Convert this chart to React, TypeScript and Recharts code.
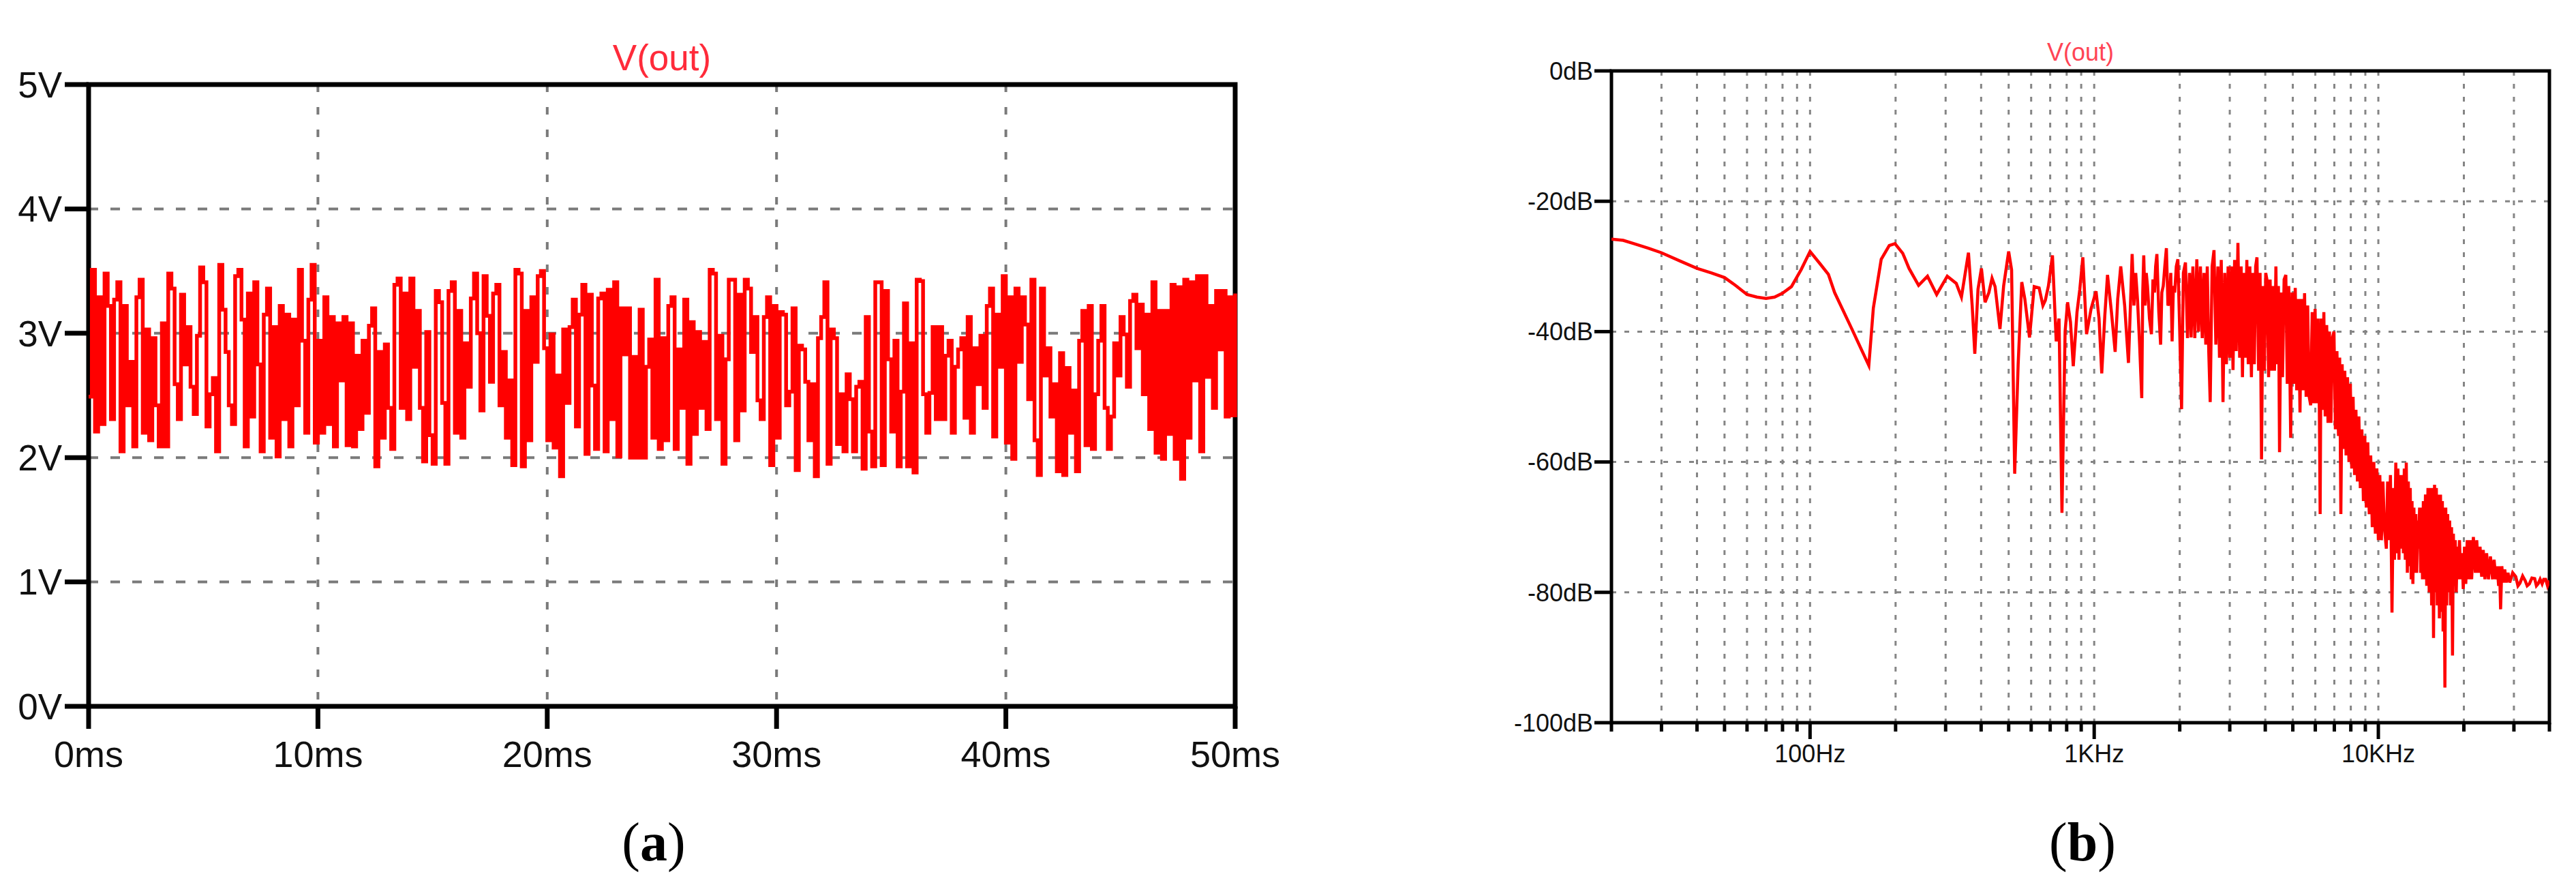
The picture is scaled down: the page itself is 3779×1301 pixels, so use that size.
import React from 'react'
import {
  LineChart,
  Line,
  XAxis,
  YAxis,
  CartesianGrid,
  ReferenceArea,
} from 'recharts'

const SANS = '"Liberation Sans", Arial, sans-serif'
const SERIF = '"Liberation Serif", "Times New Roman", serif'

// (a) transient of V(out), 0..50 ms, one sample per step
const timeTicks = [0, 10, 20, 30, 40, 50]
const voltTicks = [0, 1, 2, 3, 4, 5]

const voutSteps = [
  2.49, 3.51, 2.21, 3.29, 2.27, 3.48, 3.22, 2.31, 3.27, 3.41, 2.05, 3.22, 2.42, 2.77, 2.09, 3.29,
  3.43, 2.2, 3.03, 2.14, 2.96, 2.42, 2.09, 3.08, 2.09, 3.48, 3.36, 2.59, 2.31, 3.31, 2.75, 3.05,
  2.57, 2.35, 2.98, 3.53, 3.41, 2.25, 2.51, 2.64, 2.05, 3.55, 3.19, 2.85, 2.42, 2.27, 3.46, 3.51,
  3.11, 2.09, 3.32, 2.33, 3.41, 2.75, 2.05, 3.15, 3.36, 2.16, 3.05, 2.01, 3.22, 2.31, 3.15, 2.09,
  3.11, 2.42, 3.51, 2.94, 2.2, 3.27, 3.55, 2.12, 2.94, 2.2, 3.29, 2.27, 3.13, 2.09, 3.08, 2.62,
  // 12.5 .. 25 ms
  3.13, 2.1, 3.08, 2.09, 2.82, 2.23, 2.94, 2.36, 3.06, 3.2, 1.93, 2.85, 2.16, 2.91, 2.4, 2.07,
  3.39, 3.44, 2.4, 3.32, 2.31, 3.44, 2.73, 3.18, 2.4, 1.97, 3.01, 2.18, 1.95, 3.34, 3.25, 2.44,
  1.95, 3.34, 3.41, 2.2, 3.18, 2.16, 2.92, 2.57, 3.28, 3.48, 3.0, 2.38, 3.46, 3.14, 2.61, 3.32,
  3.39, 2.42, 2.85, 2.16, 2.62, 1.94, 3.51, 3.48, 1.93, 3.18, 2.14, 3.29, 2.77, 3.46, 3.5, 2.88,
  2.14, 2.99, 2.08, 2.66, 1.85, 3.03, 2.44, 3.05, 3.27, 2.25, 3.15, 3.39, 2.03, 3.31, 2.58, 2.07,
  3.28, 3.32, 2.05, 3.35, 2.31, 3.41, 2.01, 3.2, 2.83, 3.2, 2.0,
  // 25 .. 37.5 ms
  2.81, 2.0, 3.19, 2.0, 2.73, 2.95, 2.16, 3.43, 2.07, 2.96, 2.14, 3.22, 3.29, 2.07, 2.87, 2.4,
  3.27, 1.95, 3.09, 2.19, 3.01, 2.4, 2.93, 2.23, 3.51, 3.48, 2.31, 2.98, 1.95, 2.79, 3.43, 3.43,
  2.14, 3.31, 2.38, 3.43, 3.36, 2.85, 3.13, 2.46, 2.31, 3.13, 3.29, 1.94, 3.22, 2.16, 3.17, 3.15,
  2.42, 2.53, 3.2, 1.9, 2.9, 2.87, 2.61, 2.14, 2.59, 1.85, 2.96, 3.13, 3.41, 1.95, 3.03, 2.96,
  2.11, 2.51, 2.05, 2.67, 2.47, 2.05, 2.57, 2.61, 1.91, 3.13, 2.21, 1.93, 3.41, 3.41, 1.94, 3.34,
  2.79, 2.21, 2.94, 1.93, 2.53, 3.24, 1.93, 2.92, 1.88, 3.43, 3.42, 2.51, 2.2, 2.52, 3.05, 2.31,
  // 37.5 .. 50 ms
  3.05, 2.31, 2.82, 2.94, 2.2, 2.73, 2.87, 2.96, 2.32, 3.13, 2.2, 2.88, 2.59, 2.98, 2.4, 3.22,
  3.36, 2.17, 3.15, 2.73, 3.46, 2.12, 3.29, 1.99, 3.36, 2.77, 3.29, 3.07, 2.47, 3.43, 2.14, 1.86,
  3.36, 2.66, 2.88, 2.33, 2.59, 1.89, 2.84, 1.86, 2.72, 2.2, 2.54, 1.89, 2.94, 3.18, 2.1, 3.22,
  2.07, 2.51, 2.94, 3.22, 2.4, 2.07, 2.33, 2.92, 2.66, 3.13, 2.99, 2.57, 3.26, 3.31, 2.88, 3.23,
  2.51, 3.15, 2.23, 3.41, 2.04, 3.18, 1.99, 3.18, 2.19, 3.39, 1.99, 3.37, 1.83, 3.43, 2.16, 3.41,
  2.62, 3.46, 2.05, 3.46, 2.65, 3.22, 2.4, 3.34, 2.87, 3.34, 2.33, 3.29, 2.34, 3.32,
]

// (b) spectrum of V(out): [frequency Hz, level dB]
const freqTicks = [
  20, 30, 40, 50, 60, 70, 80, 90, 100, 200, 300, 400, 500, 600, 700, 800, 900, 1000, 2000, 3000,
  4000, 5000, 6000, 7000, 8000, 9000, 10000, 20000, 30000, 40000,
]
const freqLabels: Record<number, string> = { 100: '100Hz', 1000: '1KHz', 10000: '10KHz' }
const dbTicks = [-100, -80, -60, -40, -20, 0]

const spectrum: [number, number][] = [
  [20, -25.8], [22, -26.0], [24, -26.5], [27, -27.2], [30, -27.9], [35, -29.2], [40, -30.3],
  [45, -31.0], [50, -31.7], [55, -33.0], [60, -34.3], [65, -34.7], [70, -34.9], [75, -34.7],
  [80, -34.1], [86, -33.1], [93, -30.5], [100, -27.7], [108, -29.5], [116, -31.2], [122, -34.0],
  [140, -39.5], [161, -45.2], [167, -36.4], [178, -28.9], [190, -26.8], [199, -26.5], [212, -28.0],
  [223, -30.3], [241, -32.9], [259, -31.5], [279, -34.3], [304, -31.5], [327, -32.6], [341, -34.7],
  [361, -27.9], [372, -36.0], [380, -43.4], [390, -33.5], [401, -30.3], [413, -35.5], [426, -34.0],
  [437, -31.8], [448, -33.1], [466, -39.6], [480, -33.0], [500, -27.7], [512, -30.5], [525, -61.8],
  [540, -45.0], [556, -32.4], [570, -35.0], [592, -40.9], [615, -33.1], [640, -33.3], [660, -36.0],
  [673, -35.2], [690, -33.0], [713, -28.3], [735, -41.5], [752, -38.0], [770, -67.8], [790, -40.0],
  [806, -35.5], [825, -38.5], [844, -45.3], [870, -37.0], [890, -33.5], [912, -28.6], [940, -40.4],
  [975, -36.5], [1015, -33.8], [1040, -38.0], [1063, -46.4], [1090, -37.5], [1114, -31.3],
  [1150, -37.0], [1185, -43.1], [1210, -35.0], [1240, -30.0], [1280, -36.0], [1320, -44.8],
  [1340, -36.5], [1360, -28.1], [1380, -36], [1400, -31], [1420, -35], [1445, -42], [1470, -50.2],
  [1482, -34], [1494, -28.3], [1510, -36], [1525, -31], [1540, -33], [1565, -38], [1590, -40.4],
  [1610, -32], [1630, -34], [1645, -30], [1662, -28.1], [1688, -37], [1713, -42], [1730, -34],
  [1750, -33], [1772, -30], [1795, -27.2], [1818, -36], [1840, -35.5], [1860, -31], [1880, -41.5],
  [1900, -33], [1920, -34], [1945, -30], [1970, -28.9],
  // dense band 2 kHz .. 10 kHz
  [2000, -40], [2030, -51.9], [2060, -31], [2095, -29.4], [2130, -41], [2165, -31], [2193, -40.9],
  [2225, -30], [2260, -41], [2297, -28.9], [2330, -40], [2365, -30], [2400, -41], [2435, -31],
  [2470, -42], [2500, -30], [2530, -43], [2560, -50.8], [2600, -30], [2640, -27.5], [2680, -42],
  [2725, -30], [2760, -44], [2800, -29], [2840, -50.8], [2880, -31], [2920, -45], [2960, -30],
  [3000, -44], [3040, -30], [3080, -45.9], [3120, -29], [3160, -43], [3205, -26.4], [3250, -44],
  [3290, -30], [3325, -47], [3365, -31], [3400, -44], [3445, -29], [3485, -45], [3530, -30],
  [3575, -47], [3620, -31], [3660, -45], [3700, -30], [3740, -28.6], [3790, -46], [3835, -31],
  [3880, -59.6], [3925, -33], [3970, -46], [4015, -31], [4060, -32.2], [4110, -47], [4160, -32],
  [4210, -46], [4260, -33], [4310, -46], [4360, -30], [4405, -45], [4450, -33], [4490, -58.5],
  [4545, -34], [4600, -47], [4660, -32], [4725, -31.3], [4780, -48], [4840, -33], [4915, -56.3],
  [4970, -34], [5030, -48], [5100, -33.3], [5160, -49], [5230, -35], [5300, -52.4], [5360, -35],
  [5430, -49], [5500, -34.1], [5570, -50], [5640, -36], [5710, -50], [5780, -51.3], [5850, -37],
  [5920, -51], [5990, -36.5], [6060, -51], [6130, -38], [6200, -52], [6240, -68], [6290, -38],
  [6360, -52], [6430, -37], [6500, -53], [6580, -39], [6650, -54], [6730, -40], [6810, -54],
  [6890, -41], [6980, -40], [7060, -55], [7150, -43], [7240, -56], [7310, -44], [7380, -68],
  [7460, -45], [7540, -58], [7620, -46], [7700, -59], [7790, -47], [7880, -60], [7970, -48],
  [8060, -61], [8150, -50], [8250, -62], [8340, -52], [8440, -63], [8540, -53], [8640, -64],
  [8750, -55], [8860, -66], [8960, -56], [9070, -67], [9180, -57], [9290, -68], [9400, -59],
  [9520, -70], [9640, -60], [9760, -71], [9880, -61], [10000, -72], [10120, -62], [10250, -72],
  [10380, -63], [10500, -70],
  // roll-off 10 kHz .. 40 kHz
  [10670, -73.3], [10780, -63], [10900, -72], [11030, -62], [11170, -83.1], [11300, -64],
  [11400, -75], [11520, -60.1], [11620, -74], [11720, -61], [11820, -75], [11920, -62],
  [12060, -73.3], [12150, -62], [12250, -74], [12340, -61], [12440, -75], [12540, -60.1],
  [12650, -77], [12750, -63], [12850, -76], [12950, -64], [13050, -78], [13140, -66],
  [13230, -78.7], [13340, -67], [13450, -77], [13550, -68], [13650, -77], [13750, -69],
  [13850, -73.3], [13970, -67], [14100, -77], [14200, -67], [14300, -78], [14400, -66],
  [14500, -78], [14650, -65], [14800, -79], [14950, -64], [15100, -80], [15250, -64],
  [15400, -82], [15520, -64], [15640, -87], [15770, -63.5], [15900, -80], [16000, -64],
  [16120, -82], [16260, -65], [16400, -84], [16550, -65], [16700, -83], [16800, -66],
  [16900, -86], [17020, -67], [17150, -94.6], [17270, -67], [17400, -82], [17540, -68],
  [17690, -80], [17820, -69], [17950, -82], [18100, -70], [18240, -89.7], [18370, -71],
  [18500, -79], [18650, -72], [18800, -80], [18950, -73], [19100, -78], [19300, -72],
  [19500, -78], [19700, -74], [19900, -79.5], [20100, -73], [20310, -78.7], [20550, -72],
  [20800, -78], [21050, -72], [21300, -78], [21600, -71.5], [21950, -77], [22200, -72],
  [22500, -77], [22800, -73], [23100, -77.6], [23400, -73.5], [23720, -78], [24050, -74],
  [24400, -78], [24800, -74.5], [25240, -78], [25550, -75], [25900, -78], [26200, -76],
  [26500, -79], [26700, -76], [26930, -82.6], [27200, -76], [27500, -78.5], [27850, -76.5],
  [28200, -78.5], [28600, -77], [29000, -78.5], [29700, -77], [30450, -77.6], [31000, -79],
  [31500, -78.6], [32200, -77.5], [32870, -78.2], [33400, -79], [34000, -78.7], [34700, -77.8],
  [35500, -77.9], [36000, -79], [36500, -78.7], [37100, -78], [37700, -78.7], [38200, -78],
  [38800, -78], [39400, -79], [40000, -78.2],
]

const transientData = voutSteps.map((v, i) => ({ t: (i * 50) / (voutSteps.length - 1), v }))
const spectrumData = spectrum.map(([f, db]) => ({ f, db }))

function FreqTick(props: any) {
  const { x, y, payload } = props
  const label = freqLabels[payload.value]
  return (
    <g>
      <line x1={x} x2={x} y1={y} y2={y + (label ? 24 : 13)} stroke="#000" strokeWidth={5} />
      {label && (
        <text x={x} y={y + 58} textAnchor="middle" fontSize={36} fontFamily={SANS} fill="#111">
          {label}
        </text>
      )}
    </g>
  )
}

function TransientChart() {
  return (
    <LineChart
      width={1900}
      height={1150}
      data={transientData}
      margin={{ top: 124, right: 88, bottom: 34, left: 30 }}
    >
      <CartesianGrid vertical={false} stroke="#7a7a7a" strokeWidth={4} strokeDasharray="14 18" />
      <CartesianGrid horizontal={false} stroke="#7a7a7a" strokeWidth={4} strokeDasharray="11 22" />
      <XAxis
        dataKey="t"
        type="number"
        domain={[0, 50]}
        ticks={timeTicks}
        interval={0}
        tickFormatter={(v) => `${v}ms`}
        axisLine={false}
        tickLine={{ stroke: '#000', strokeWidth: 7 }}
        tickSize={33}
        tickMargin={18}
        height={80}
        tick={{ fill: '#111', fontSize: 54, fontFamily: SANS }}
      />
      <YAxis
        type="number"
        domain={[0, 5]}
        ticks={voltTicks}
        interval={0}
        tickFormatter={(v) => `${v}V`}
        axisLine={false}
        tickLine={{ stroke: '#000', strokeWidth: 7 }}
        tickSize={35}
        tickMargin={4}
        width={100}
        tick={{ fill: '#111', fontSize: 53, fontFamily: SANS }}
      />
      <Line
        type="stepAfter"
        dataKey="v"
        stroke="#ff0000"
        strokeWidth={5.5}
        dot={false}
        isAnimationActive={false}
      />
      <ReferenceArea x1={0} x2={50} y1={0} y2={5} fill="none" stroke="#000" strokeWidth={7} />
    </LineChart>
  )
}

function SpectrumChart() {
  return (
    <LineChart
      width={1629}
      height={1150}
      data={spectrumData}
      margin={{ top: 104, right: 39, bottom: 20, left: 94 }}
    >
      <CartesianGrid stroke="#858585" strokeWidth={3} strokeDasharray="7 12" />
      <XAxis
        dataKey="f"
        type="number"
        scale="log"
        domain={[20, 40000]}
        allowDataOverflow
        ticks={freqTicks}
        interval={0}
        axisLine={false}
        tickLine={false}
        tickSize={0}
        tickMargin={0}
        height={70}
        tick={FreqTick}
      />
      <YAxis
        type="number"
        domain={[-100, 0]}
        ticks={dbTicks}
        interval={0}
        tickFormatter={(v) => `${v}dB`}
        axisLine={false}
        tickLine={{ stroke: '#000', strokeWidth: 5 }}
        tickSize={25}
        tickMargin={2}
        width={120}
        tick={{ fill: '#111', fontSize: 36, fontFamily: SANS }}
      />
      <Line
        type="linear"
        dataKey="db"
        stroke="#ff0000"
        strokeWidth={4.5}
        dot={false}
        isAnimationActive={false}
      />
      <ReferenceArea x1={20} x2={40000} y1={-100} y2={0} fill="none" stroke="#000" strokeWidth={5} />
    </LineChart>
  )
}

export default function App() {
  return (
    <div
      style={{
        position: 'absolute',
        left: 0,
        top: 0,
        width: 3779,
        height: 1301,
        background: '#fff',
        overflow: 'hidden',
      }}
    >
      <div style={{ position: 'absolute', left: 0, top: 0 }}>
        <TransientChart />
      </div>
      <div style={{ position: 'absolute', left: 2150, top: 0 }}>
        <SpectrumChart />
      </div>
      <svg
        width={3779}
        height={1301}
        style={{ position: 'absolute', left: 0, top: 0, pointerEvents: 'none' }}
      >
        <text x={971} y={103} textAnchor="middle" fontSize={53} fontFamily={SANS} fill="#ff2b3a">
          V(out)
        </text>
        <text x={3052} y={89} textAnchor="middle" fontSize={36} fontFamily={SANS} fill="#ff4455">
          V(out)
        </text>
        <text x={959} y={1262} textAnchor="middle" fontSize={80} fontFamily={SERIF} fill="#000">
          (<tspan fontWeight="bold">a</tspan>)
        </text>
        <text x={3055} y={1262} textAnchor="middle" fontSize={80} fontFamily={SERIF} fill="#000">
          (<tspan fontWeight="bold">b</tspan>)
        </text>
      </svg>
    </div>
  )
}
